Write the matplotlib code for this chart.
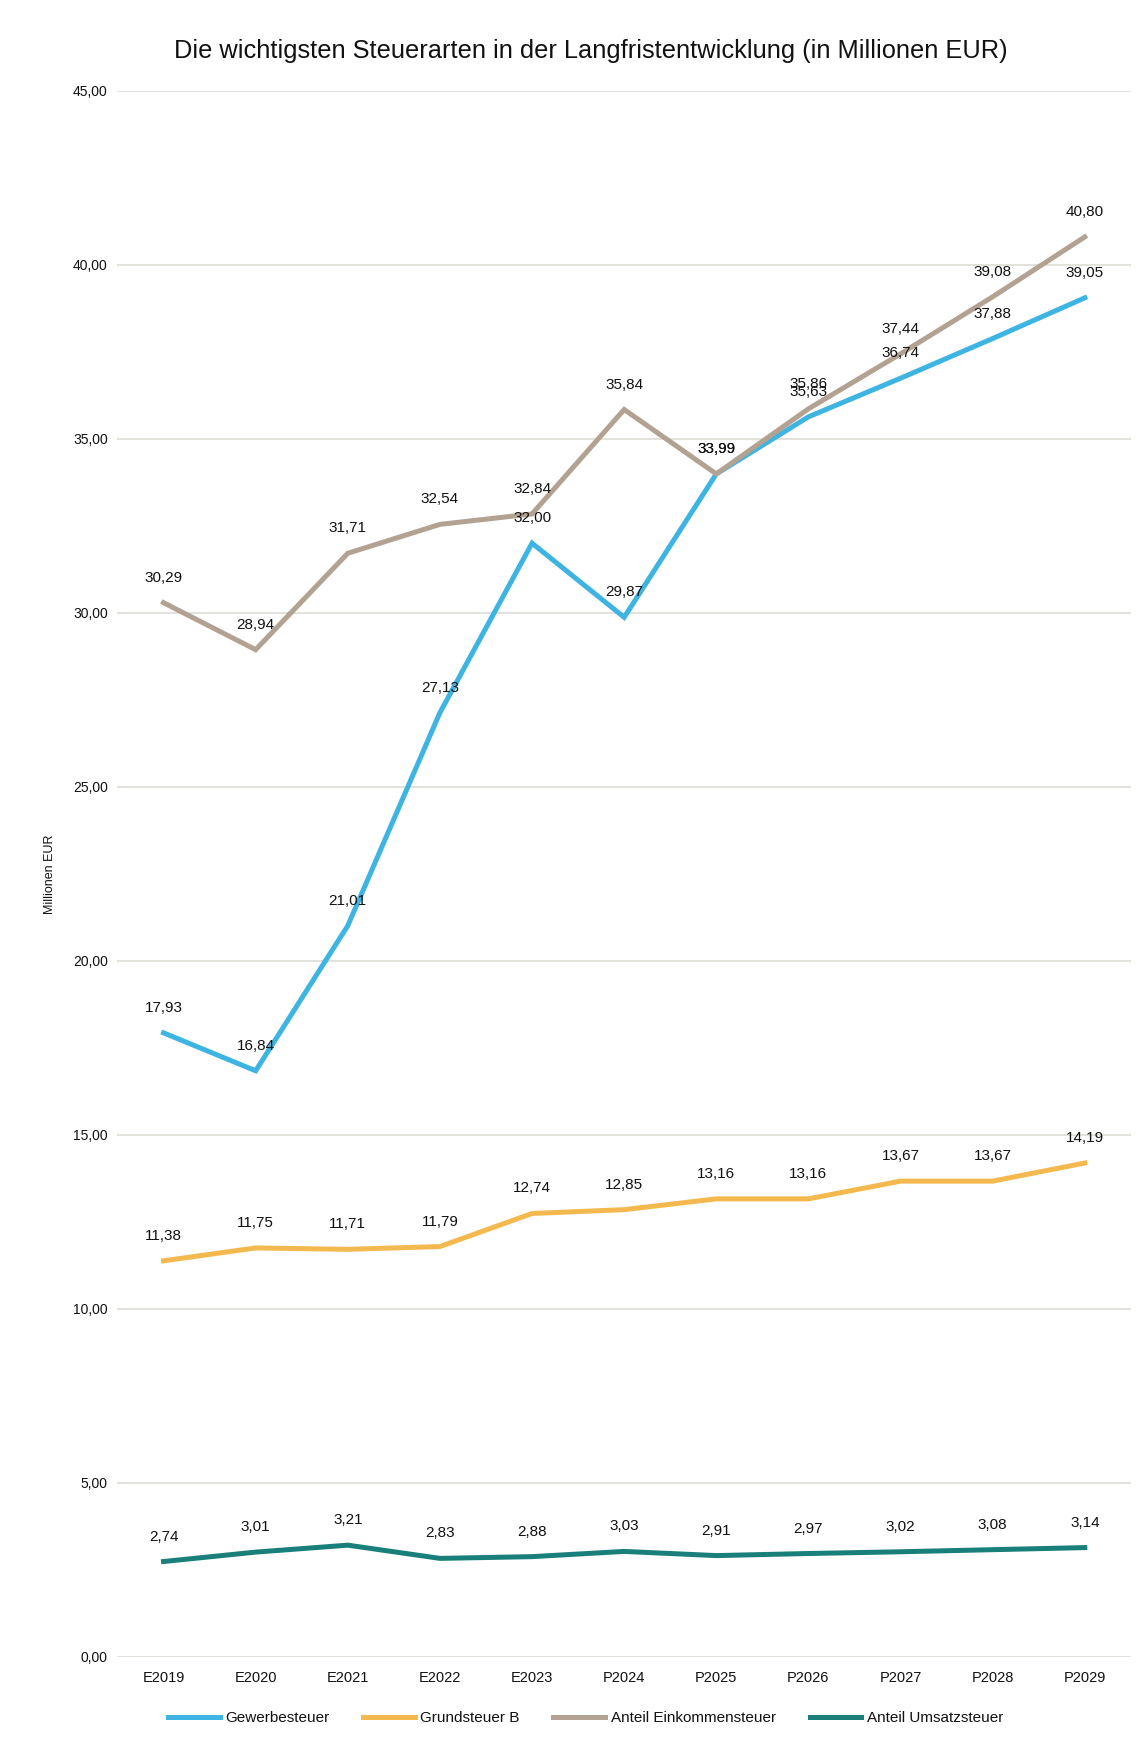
"""
Long-term development of the main tax types (in million EUR), line chart
with data labels and a legend underneath.
"""
import matplotlib
matplotlib.use("Agg")
import matplotlib.pyplot as plt
from matplotlib.ticker import FuncFormatter

plt.rcParams["font.family"] = ["Liberation Sans", "DejaVu Sans"]

# ---------------------------------------------------------------------------
# Data
# ---------------------------------------------------------------------------

years = ["E2019", "E2020", "E2021", "E2022", "E2023",
         "P2024", "P2025", "P2026", "P2027", "P2028", "P2029"]

gewerbesteuer = [17.93, 16.84, 21.01, 27.13, 32.00, 29.87, 33.99, 35.63, 36.74, 37.88, 39.05]
grundsteuer_b = [11.38, 11.75, 11.71, 11.79, 12.74, 12.85, 13.16, 13.16, 13.67, 13.67, 14.19]
einkommensteuer = [30.29, 28.94, 31.71, 32.54, 32.84, 35.84, 33.99, 35.86, 37.44, 39.08, 40.80]
umsatzsteuer = [2.74, 3.01, 3.21, 2.83, 2.88, 3.03, 2.91, 2.97, 3.02, 3.08, 3.14]

series = [
    ("Gewerbesteuer", gewerbesteuer, "#3db4e2"),
    ("Grundsteuer B", grundsteuer_b, "#f3b94e"),
    ("Anteil Einkommensteuer", einkommensteuer, "#b2a291"),
    ("Anteil Umsatzsteuer", umsatzsteuer, "#197f7a"),
]

TXT = "#111111"


def de(v):
    return f"{v:.2f}".replace(".", ",")


# ---------------------------------------------------------------------------
# Plot
# ---------------------------------------------------------------------------

fig = plt.figure(figsize=(11.46, 17.45), dpi=100)
ax = fig.add_axes([0.1025, 0.0505, 0.8843, 0.8975])

x = list(range(len(years)))
for name, vals, col in series:
    ax.plot(x, vals, color=col, lw=3.6, label=name, solid_joinstyle="miter", zorder=3)
    for xi, v in zip(x, vals):
        ax.annotate(de(v), (xi, v), xytext=(0, 18), textcoords="offset points",
                    ha="center", va="center", fontsize=11, color=TXT, zorder=4)

ax.set_xlim(-0.5, len(years) - 0.5)
ax.set_ylim(0, 45)
ax.set_yticks([0, 5, 10, 15, 20, 25, 30, 35, 40, 45])
ax.yaxis.set_major_formatter(FuncFormatter(lambda v, _: de(v)))
ax.set_xticks(x)
ax.set_xticklabels(years)
ax.tick_params(axis="both", length=0, labelsize=10, colors=TXT)
ax.tick_params(axis="x", labelsize=10.5, pad=10)
ax.tick_params(axis="y", pad=7)
ax.grid(axis="y", color="#dedbd6", lw=1.2)
ax.set_axisbelow(True)
for s in ax.spines.values():
    s.set_visible(False)

ax.set_ylabel("Millionen EUR", fontsize=9, labelpad=12, color=TXT)

fig.text(0.5155, 0.971, "Die wichtigsten Steuerarten in der Langfristentwicklung (in Millionen EUR)",
         ha="center", va="center", fontsize=18.3, color=TXT)

fig.legend(loc="center", bbox_to_anchor=(0.511, 0.0155), ncol=4, frameon=False,
           fontsize=11, handlelength=3.4, columnspacing=2.2, handletextpad=0.35,
           labelcolor=TXT)

fig.savefig("out.png", dpi=100, facecolor="white")
